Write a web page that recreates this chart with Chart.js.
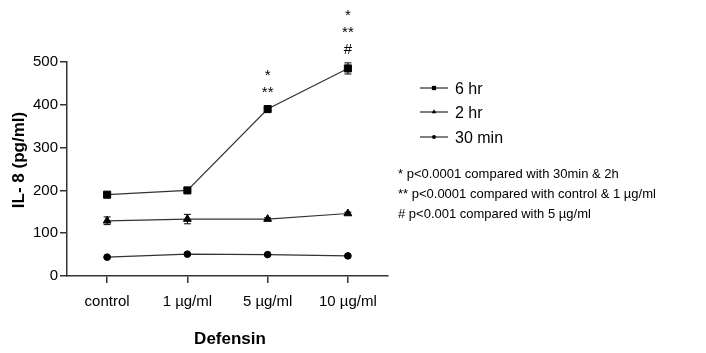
<!DOCTYPE html>
<html>
<head>
<meta charset="utf-8">
<script src="https://cdn.jsdelivr.net/npm/chart.js@4/dist/chart.umd.min.js"></script>
<style>
  html, body { margin: 0; padding: 0; background: #fff; }
  #wrap { width: 706px; height: 353px; }
</style>
</head>
<body>
<div id="wrap"><canvas id="chart" width="706" height="353"></canvas></div>
<script>
const categories = ["control", "1 µg/ml", "5 µg/ml", "10 µg/ml"];
const seriesNames = ["6 hr", "2 hr", "30 min"];
const hr6 = [190, 200, 390, 485];
const hr6Err = [3, 3, 7, 13];
const hr2 = [129, 133, 133, 146];
const hr2Err = [9, 11, 3, 3];
const min30 = [44, 51, 50, 47];
const min30Err = [2, 2, 2, 2];
const yTicks = [0, 100, 200, 300, 400, 500];
// significance marks per category, listed bottom to top
const marks = [[], [], ["**", "*"], ["#", "**", "*"]];
const notes = [
  "* p<0.0001 compared with 30min & 2h",
  "** p<0.0001 compared with control & 1 µg/ml",
  "# p<0.001 compared with 5 µg/ml"
];

const FONT = "Arial, 'Liberation Sans', sans-serif";
const errors = [hr6Err, hr2Err, min30Err];

const errorBars = {
  id: "errorBars",
  afterDatasetsDraw(chart) {
    const ctx = chart.ctx;
    const y = chart.scales.y;
    ctx.save();
    ctx.strokeStyle = "#000";
    ctx.lineWidth = 1;
    chart.data.datasets.forEach((ds, di) => {
      const meta = chart.getDatasetMeta(di);
      meta.data.forEach((pt, i) => {
        const v = ds.data[i], e = errors[di][i];
        const top = y.getPixelForValue(v + e);
        const bot = y.getPixelForValue(v - e);
        ctx.beginPath();
        ctx.moveTo(pt.x, top); ctx.lineTo(pt.x, bot);
        ctx.moveTo(pt.x - 3.5, top); ctx.lineTo(pt.x + 3.5, top);
        ctx.moveTo(pt.x - 3.5, bot); ctx.lineTo(pt.x + 3.5, bot);
        ctx.stroke();
      });
    });
    ctx.restore();
  }
};

const extras = {
  id: "extras",
  afterDraw(chart) {
    const ctx = chart.ctx;
    const x = chart.scales.x, y = chart.scales.y;
    ctx.save();
    ctx.fillStyle = "#000";

    // significance stars above 6 hr points
    ctx.font = "15px " + FONT;
    ctx.textAlign = "center";
    ctx.textBaseline = "alphabetic";
    marks.forEach((list, i) => {
      const px = x.getPixelForValue(i);
      let base = y.getPixelForValue(hr6[i] + hr6Err[i]) - 9;
      list.forEach(m => {
        ctx.fillText(m, px, base);
        base -= 17;
      });
    });

    // axis titles
    ctx.font = "bold 17px " + FONT;
    ctx.fillText("Defensin", 230, 344);
    ctx.save();
    ctx.translate(24, 160);
    ctx.rotate(-Math.PI / 2);
    ctx.fillText("IL- 8 (pg/ml)", 0, 0);
    ctx.restore();

    // legend
    ctx.textAlign = "left";
    ctx.font = "16px " + FONT;
    const rows = [88, 112, 137];
    chart.data.datasets.forEach((ds, di) => {
      const ly = rows[di];
      ctx.strokeStyle = "#000";
      ctx.lineWidth = 1;
      ctx.beginPath();
      ctx.moveTo(420, ly); ctx.lineTo(448, ly);
      ctx.stroke();
      ctx.fillStyle = "#000";
      Chart.helpers.drawPoint(ctx, {
        pointStyle: ds.pointStyle, radius: ds.pointRadius * 0.6, rotation: 0, borderWidth: 0
      }, 434, ly);
      ctx.fillText(seriesNames[di], 455, ly + 6);
    });

    // footnotes
    ctx.font = "13px " + FONT;
    const noteY = [178, 198, 218];
    notes.forEach((n, i) => ctx.fillText(n, 398, noteY[i]));
    ctx.restore();
  }
};

const mkSet = (label, data, style, r) => ({
  label, data,
  borderColor: "#333",
  borderWidth: 1.2,
  pointStyle: style,
  pointRadius: r,
  pointBackgroundColor: "#000",
  pointBorderColor: "#000",
  pointBorderWidth: 1,
  tension: 0,
  clip: false
});

new Chart(document.getElementById("chart"), {
  type: "line",
  data: {
    labels: categories,
    datasets: [
      mkSet(seriesNames[0], hr6, "rect", 5),
      mkSet(seriesNames[1], hr2, "triangle", 4.5),
      mkSet(seriesNames[2], min30, "circle", 3.3)
    ]
  },
  options: {
    responsive: false,
    animation: false,
    layout: { padding: { left: 0, right: 318, top: 62, bottom: 0 } },
    plugins: { legend: { display: false }, tooltip: { enabled: false } },
    scales: {
      x: {
        offset: true,
        afterFit: s => { s.height = 77; },
        grid: { drawOnChartArea: false, tickLength: 7, color: "#333", lineWidth: 1.5 },
        border: { color: "#333", width: 1.5 },
        ticks: { color: "#000", font: { family: FONT, size: 15 }, padding: 10, maxRotation: 0 }
      },
      y: {
        min: 0, max: 500,
        afterFit: s => { s.width = 67; },
        afterBuildTicks: s => { s.ticks = yTicks.map(v => ({ value: v })); },
        grid: { drawOnChartArea: false, tickLength: 7, color: "#333", lineWidth: 1.5 },
        border: { color: "#333", width: 1.5 },
        ticks: { color: "#000", font: { family: FONT, size: 15 }, padding: 2 }
      }
    }
  },
  plugins: [errorBars, extras]
});
</script>
</body>
</html>
